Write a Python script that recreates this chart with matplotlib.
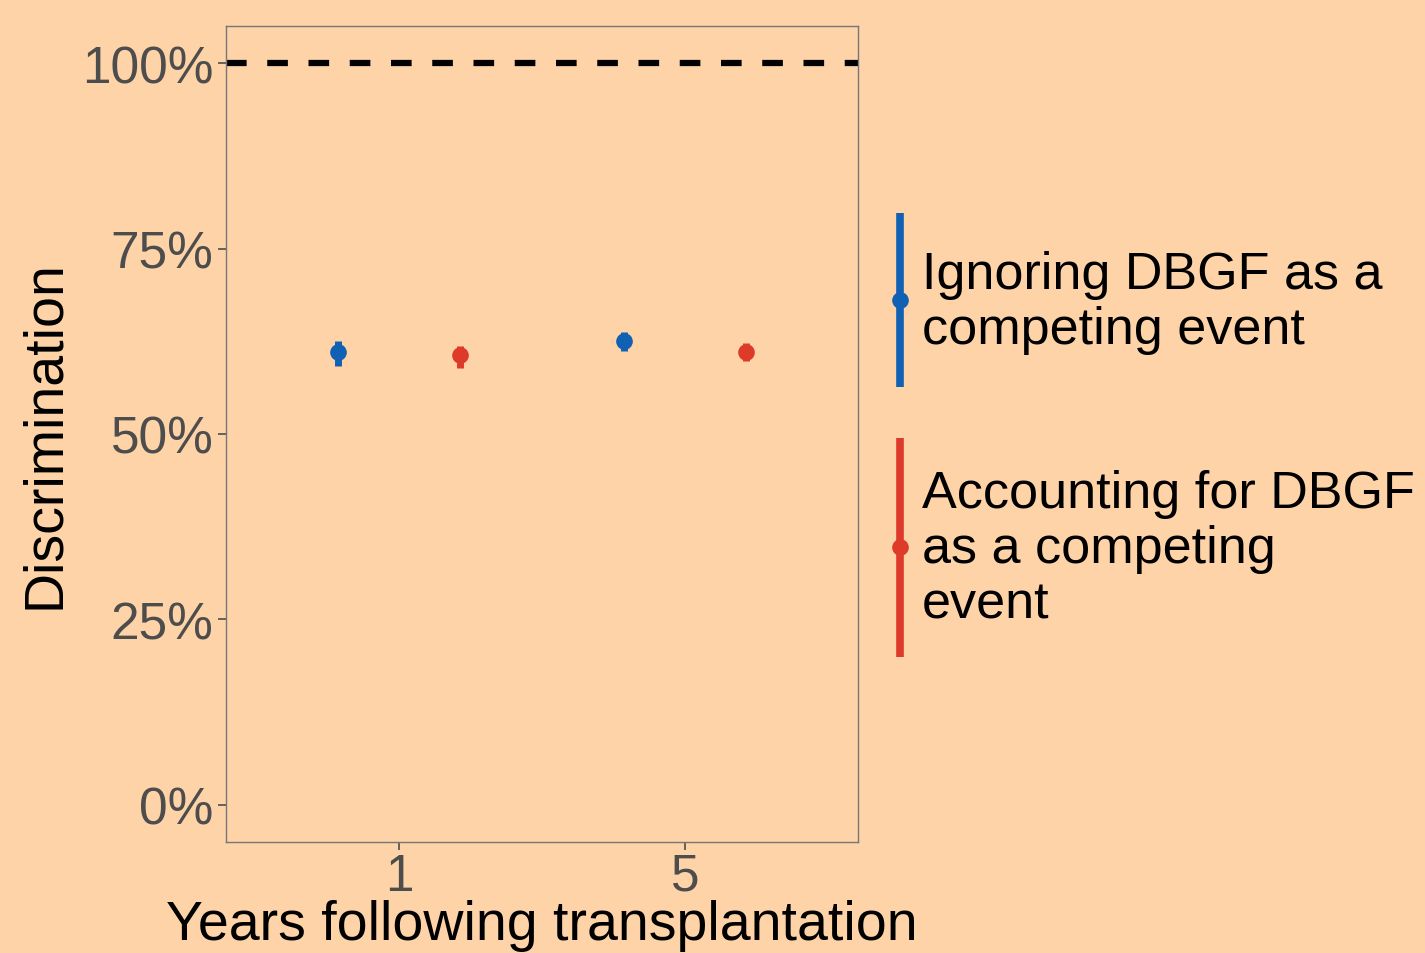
import matplotlib
matplotlib.use("Agg")
import matplotlib.pyplot as plt
import numpy as np

plt.rcParams['font.family'] = ['Liberation Sans', 'DejaVu Sans']

years = ["1", "5"]
series = ["Ignoring DBGF as a\ncompeting event", "Accounting for DBGF\nas a competing\nevent"]
colors = ["#1060B4", "#DE3A2A"]
est = [[61.1, 62.6], [60.7, 61.1]]
low = [[59.2, 61.2], [58.9, 59.8]]
high = [[62.6, 63.8], [61.9, 62.3]]
yticks = [0, 25, 50, 75, 100]
ytick_labels = ["0%", "25%", "50%", "75%", "100%"]
ref_line = 100

bg = "#FED3A7"
W, H = 1425, 954
fig = plt.figure(figsize=(W / 100, H / 100), dpi=100, facecolor=bg)
ax = fig.add_axes([226 / W, 1 - 843 / H, (858 - 226) / W, (843 - 27) / H], facecolor=bg)

xpos = np.arange(len(years))
dodge = 0.215
for i, (name, c) in enumerate(zip(series, colors)):
    off = -dodge if i == 0 else dodge
    xs = xpos + off
    for j in range(len(years)):
        ax.plot([xs[j], xs[j]], [low[i][j], high[i][j]], color=c, lw=5, solid_capstyle='butt', zorder=3)
    ax.plot(xs, est[i], 'o', color=c, ms=12, zorder=4, markeredgewidth=0)

ax.axhline(ref_line, color='black', lw=4.5, dashes=(3.3, 3.3), zorder=2)

ax.set_xlim(-0.605, 1.605)
ax.set_ylim(-5, 105)
ax.set_xticks(xpos)
ax.set_xticklabels(years)
ax.set_yticks(yticks)
ax.set_yticklabels(ytick_labels)
ax.tick_params(axis='both', labelsize=37, colors='#4D4D4D', length=6, width=1.2, pad=3)
ax.tick_params(axis='x', pad=1)
for s in ax.spines.values():
    s.set_color('#777777')
    s.set_linewidth(1.0)
ax.set_xlabel("Years following transplantation", fontsize=40, color='black', labelpad=-1)
ax.set_ylabel("Discrimination", fontsize=40, color='black', labelpad=8)

# legend drawn manually
lax = fig.add_axes([0, 0, 1, 1], facecolor='none')
lax.set_xlim(0, W)
lax.set_ylim(H, 0)
lax.axis('off')
leg_spans = [(214, 388, 301), (439, 658, 548)]
leg_text_y = [303, 550]
for (y0, y1, ym), c, name, ty in zip(leg_spans, colors, series, leg_text_y):
    lax.plot([900, 900], [y0, y1], color=c, lw=5.5, solid_capstyle='butt')
    lax.plot([900], [ym], 'o', color=c, ms=12, markeredgewidth=0)
    lax.text(922, ty, name, fontsize=37.5, va='center', ha='left', color='black', linespacing=1.17)

fig.savefig("out.png", dpi=100, facecolor=bg)
